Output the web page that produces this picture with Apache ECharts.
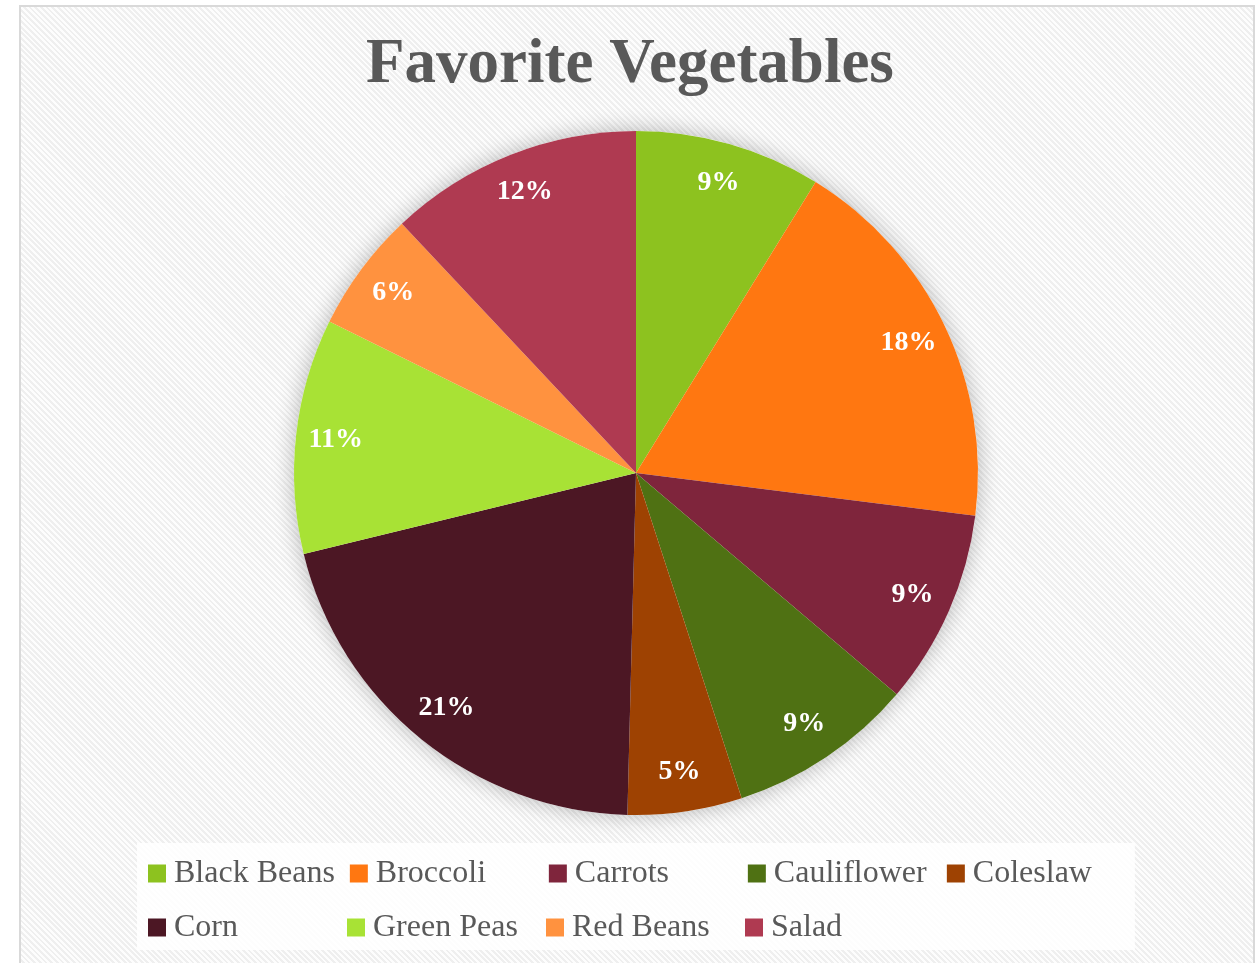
<!DOCTYPE html>
<html>
<head>
<meta charset="utf-8">
<script src="https://cdn.jsdelivr.net/npm/echarts@6/dist/echarts.min.js"></script>
<style>
  html, body { margin: 0; padding: 0; background: #ffffff; }
  #frame {
    position: absolute; left: 19px; top: 5px; width: 1232px; height: 980px;
    border: 2px solid #d9d9d9;
    background: repeating-linear-gradient(45deg, #fdfdfd 0px, #fdfdfd 2px, #efefef 2px, #efefef 4px);
  }
  #chart { position: absolute; left: 0; top: 0; width: 1260px; height: 963px; }
</style>
</head>
<body>
<div id="frame"></div>
<div id="chart"></div>
<script>
const categories = ['Black Beans', 'Broccoli', 'Carrots', 'Cauliflower', 'Coleslaw', 'Corn', 'Green Peas', 'Red Beans', 'Salad'];
const shares = [8.8, 18.2, 9.2, 8.8, 5.4, 20.8, 11.1, 5.7, 12.0];
const colors = ['#8DC21F', '#FF7711', '#7F253C', '#4F7113', '#9E4202', '#4C1724', '#A8E235', '#FF923F', '#AF3A51'];

const serif = '"Liberation Serif", "DejaVu Serif", serif';
const data = categories.map((name, i) => ({ name: name, value: shares[i], itemStyle: { color: colors[i] } }));
const total = shares.reduce((a, b) => a + b, 0);

const chart = echarts.init(document.getElementById('chart'), null, { renderer: 'canvas' });
chart.setOption({
  backgroundColor: 'transparent',
  animation: false,
  title: {
    text: 'Favorite Vegetables',
    left: 'center',
    top: 29,
    textStyle: { fontFamily: serif, fontWeight: 'bold', fontSize: 63, color: '#595959' }
  },
  legend: {
    data: categories,
    left: 137,
    top: 843,
    width: 1000,
    orient: 'horizontal',
    backgroundColor: 'rgba(255,255,255,0.85)',
    padding: [11, 4, 3, 11],
    itemWidth: 18,
    itemHeight: 18,
    itemGap: 15,
    icon: 'rect',
    textStyle: { fontFamily: serif, fontSize: 32, color: '#595959', width: 158, lineHeight: 39, padding: [0, 0, 0, 3] }
  },
  series: [
    {
      type: 'pie',
      name: 'shadow',
      silent: true,
      legendHoverLink: false,
      center: [636, 473],
      radius: [0, 342],
      label: { show: false },
      labelLine: { show: false },
      itemStyle: { color: '#ffffff', shadowBlur: 22, shadowColor: 'rgba(0,0,0,0.28)' },
      data: [{ name: '__bg', value: 1 }],
      z: 1
    },
    {
      type: 'pie',
      name: 'Favorite Vegetables',
      center: [636, 473],
      radius: [0, 342],
      startAngle: 90,
      clockwise: true,
      label: { show: false },
      labelLine: { show: false },
      itemStyle: { borderWidth: 0 },
      emphasis: { disabled: true },
      data: data,
      z: 2
    },
    {
      type: 'pie',
      name: 'labels',
      silent: true,
      center: [636, 473],
      radius: [256, 342],
      startAngle: 90,
      clockwise: true,
      itemStyle: { color: 'rgba(0,0,0,0)', borderWidth: 0 },
      labelLine: { show: false },
      label: {
        show: true,
        position: 'inside',
        formatter: p => Math.round(p.value / total * 100) + '%',
        fontFamily: serif,
        fontWeight: 'bold',
        fontSize: 28,
        color: '#ffffff'
      },
      emphasis: { disabled: true },
      data: categories.map((name, i) => ({ name: name, value: shares[i] })),
      z: 3
    }
  ]
});
</script>
</body>
</html>
